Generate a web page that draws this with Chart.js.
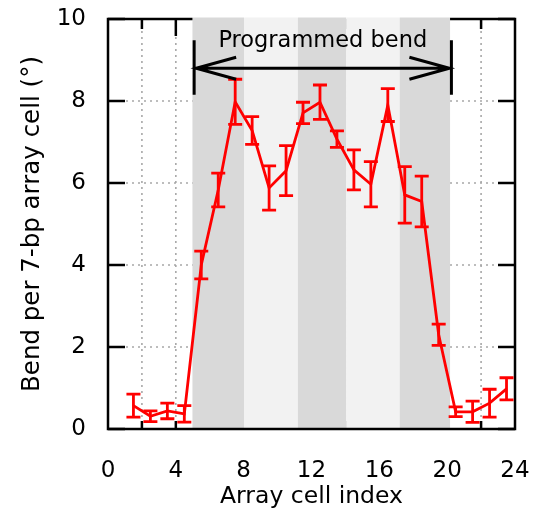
<!DOCTYPE html>
<html>
<head>
<meta charset="utf-8">
<script src="https://cdn.jsdelivr.net/npm/chart.js@4.4.1/dist/chart.umd.min.js"></script>
<style>
  body { margin: 0; background: #fff; }
  #wrap { width: 537px; height: 515px; position: relative; }
</style>
</head>
<body>
<div id="wrap"><canvas id="grafica"></canvas></div>
<script>
// Datos
const cellIndex = [1.5, 2.5, 3.5, 4.5, 5.5, 6.5, 7.5, 8.5, 9.5, 10.5, 11.5, 12.5,
                   13.5, 14.5, 15.5, 16.5, 17.5, 18.5, 19.5, 20.5, 21.5, 22.5, 23.5];
const bend = [0.57, 0.31, 0.44, 0.37, 4.0, 5.83, 7.98, 7.28, 5.88, 6.3, 7.71, 7.97,
              7.07, 6.32, 5.97, 7.9, 5.71, 5.55, 2.3, 0.42, 0.42, 0.63, 0.98];
const bendErr = [0.28, 0.13, 0.19, 0.2, 0.34, 0.41, 0.55, 0.34, 0.54, 0.61, 0.26, 0.42,
                 0.2, 0.49, 0.55, 0.4, 0.69, 0.62, 0.26, 0.12, 0.26, 0.34, 0.27];
// Bandas sombreadas (oscura / clara alternadas) y zona de curvatura programada
const bandEdges = [4.98, 8.02, 11.2, 14.04, 17.2, 20.17];
const bendRange = [5.08, 20.25];
const xTicks = [0, 4, 8, 12, 16, 20, 24];
const yTicks = [0, 2, 4, 6, 8, 10];

const fuente = '"DejaVu Sans", sans-serif';

// Marco, rejilla punteada y bandas
const marco = {
    id: 'marco',
    beforeDatasetsDraw(chart) {
        const { ctx, chartArea: a, scales: { x, y } } = chart;
        ctx.save();
        // rejilla punteada
        ctx.strokeStyle = '#a8a8a8';
        ctx.lineWidth = 1.6;
        ctx.setLineDash([2, 4]);
        for (let v = 2; v < 24; v += 2) {
            const px = x.getPixelForValue(v);
            ctx.beginPath(); ctx.moveTo(px, a.top); ctx.lineTo(px, a.bottom); ctx.stroke();
        }
        for (let v = 2; v < 10; v += 2) {
            const py = y.getPixelForValue(v);
            ctx.beginPath(); ctx.moveTo(a.left, py); ctx.lineTo(a.right, py); ctx.stroke();
        }
        ctx.setLineDash([]);
        // marcas de los ejes
        ctx.strokeStyle = '#000';
        ctx.lineWidth = 2.5;
        yTicks.forEach(v => {
            const py = y.getPixelForValue(v);
            ctx.beginPath();
            ctx.moveTo(a.left, py); ctx.lineTo(a.left + 17, py);
            ctx.moveTo(a.right, py); ctx.lineTo(a.right - 17, py);
            ctx.stroke();
        });
        for (let v = 2; v < 24; v += 2) {
            const px = x.getPixelForValue(v);
            const len = v % 4 === 0 ? 17 : 10;
            ctx.beginPath();
            ctx.moveTo(px, a.top); ctx.lineTo(px, a.top + len);
            ctx.moveTo(px, a.bottom); ctx.lineTo(px, a.bottom - 8);
            ctx.stroke();
        }
        // bandas
        for (let i = 0; i < bandEdges.length - 1; i++) {
            const x0 = x.getPixelForValue(bandEdges[i]);
            const x1 = x.getPixelForValue(bandEdges[i + 1]);
            ctx.fillStyle = i % 2 === 0 ? '#d9d9d9' : '#f2f2f2';
            ctx.fillRect(x0, a.top - 1.5, x1 - x0, a.bottom - a.top + 1.5);
        }
        // borde
        const s0 = x.getPixelForValue(bandEdges[0]);
        const s1 = x.getPixelForValue(bandEdges[bandEdges.length - 1]);
        ctx.strokeStyle = '#000';
        ctx.lineWidth = 2.5;
        ctx.beginPath();
        ctx.moveTo(s0, a.top); ctx.lineTo(a.left, a.top);
        ctx.lineTo(a.left, a.bottom); ctx.lineTo(a.right, a.bottom);
        ctx.lineTo(a.right, a.top); ctx.lineTo(s1, a.top);
        ctx.stroke();
        ctx.restore();
    }
};

// Barras de error, flecha y texto
const extras = {
    id: 'extras',
    afterDatasetsDraw(chart) {
        const { ctx, scales: { x, y } } = chart;
        ctx.save();
        ctx.strokeStyle = '#ff0000';
        ctx.lineWidth = 2.8;
        cellIndex.forEach((c, i) => {
            const px = x.getPixelForValue(c);
            const y1 = y.getPixelForValue(bend[i] + bendErr[i]);
            const y2 = y.getPixelForValue(bend[i] - bendErr[i]);
            ctx.beginPath();
            ctx.moveTo(px, y1); ctx.lineTo(px, y2);
            ctx.moveTo(px - 7, y1); ctx.lineTo(px + 7, y1);
            ctx.moveTo(px - 7, y2); ctx.lineTo(px + 7, y2);
            ctx.stroke();
        });
        // flecha de la curvatura programada
        const xa = x.getPixelForValue(bendRange[0]);
        const xb = x.getPixelForValue(bendRange[1]);
        const ya = y.getPixelForValue(8.8);
        const yTop = y.getPixelForValue(9.48);
        const yBot = y.getPixelForValue(8.15);
        ctx.strokeStyle = '#000';
        ctx.lineWidth = 3;
        ctx.beginPath();
        ctx.moveTo(xa, yTop); ctx.lineTo(xa, yBot);
        ctx.moveTo(xb, yTop); ctx.lineTo(xb, yBot);
        ctx.moveTo(xa, ya); ctx.lineTo(xb, ya);
        ctx.moveTo(xa + 42, ya - 11); ctx.lineTo(xa + 2, ya); ctx.lineTo(xa + 42, ya + 11);
        ctx.moveTo(xb - 42, ya - 11); ctx.lineTo(xb - 2, ya); ctx.lineTo(xb - 42, ya + 11);
        ctx.stroke();
        ctx.fillStyle = '#000';
        ctx.font = '22.5px ' + fuente;
        ctx.textAlign = 'center';
        ctx.textBaseline = 'alphabetic';
        ctx.fillText('Programmed bend', (xa + xb) / 2, y.getPixelForValue(9.32));
        ctx.restore();
    }
};

const ctxGrafica = document.getElementById('grafica');

new Chart(ctxGrafica, {
    type: 'line',
    data: {
        datasets: [{
            data: cellIndex.map((c, i) => ({ x: c, y: bend[i] })),
            borderColor: '#ff0000',
            borderWidth: 2.8,
            pointRadius: 0,
            tension: 0,
            fill: false
        }]
    },
    options: {
        responsive: true,
        maintainAspectRatio: false,
        animation: false,
        layout: { padding: { top: 19, right: 22, left: 0, bottom: 0 } },
        plugins: { legend: { display: false }, tooltip: { enabled: false } },
        scales: {
            x: {
                type: 'linear',
                min: 0, max: 24,
                afterBuildTicks: s => { s.ticks = xTicks.map(v => ({ value: v })); },
                afterFit: s => { s.height = 86; s.paddingLeft = 0; s.paddingRight = 0; },
                grid: { display: false },
                border: { display: false },
                ticks: { color: '#000', font: { family: fuente, size: 23 }, padding: 20, maxRotation: 0 },
                title: { display: true, text: 'Array cell index', color: '#000',
                         font: { family: fuente, size: 23.5 }, padding: { top: 0, bottom: 4 } }
            },
            y: {
                min: 0, max: 10,
                afterBuildTicks: s => { s.ticks = yTicks.map(v => ({ value: v })); },
                afterFit: s => { s.width = 108; s.paddingTop = 0; s.paddingBottom = 0; },
                grid: { display: false },
                border: { display: false },
                ticks: { color: '#000', font: { family: fuente, size: 23 }, padding: 14 },
                title: { display: true, text: 'Bend per 7-bp array cell (°)', color: '#000',
                         font: { family: fuente, size: 24.5 }, padding: { top: 18, bottom: 0 } }
            }
        }
    },
    plugins: [marco, extras]
});
</script>
</body>
</html>
